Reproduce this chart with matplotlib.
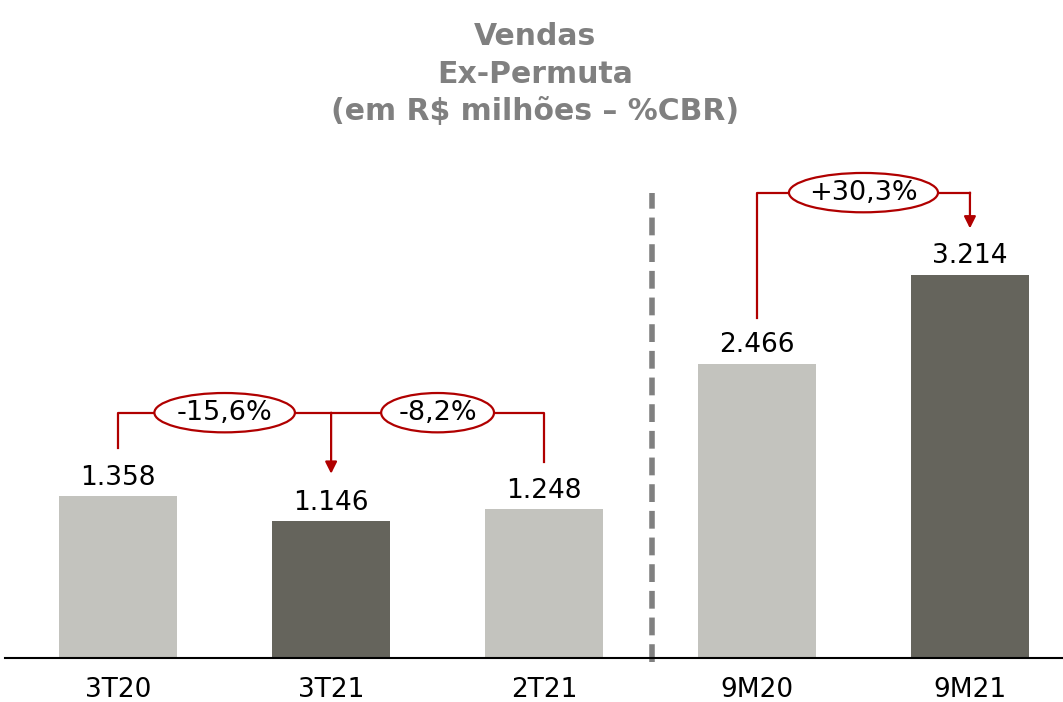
import numpy as np
import matplotlib.pyplot as plt
from matplotlib.patches import Ellipse

categorias = ["3T20", "3T21", "2T21", "9M20", "9M21"]
valores = [1358, 1146, 1248, 2466, 3214]
rotulos = ["1.358", "1.146", "1.248", "2.466", "3.214"]
escuro = [False, True, False, False, True]

# variacoes: (indice origem, indice destino, texto)
variacoes = [(0, 1, "-15,6%"), (2, 1, "-8,2%"), (3, 4, "+30,3%")]

cor_clara = "#C3C3BE"
cor_escura = "#65645C"
vermelho = "#B00000"

plt.rcParams['font.family'] = ['DejaVu Sans']

fig = plt.figure(figsize=(10.63, 7.02), dpi=100)
ax = fig.add_axes([0.005, 44 / 702, 0.995, 658 / 702])

x = np.arange(len(categorias))
cores = [cor_escura if e else cor_clara for e in escuro]
ax.bar(x, valores, width=0.555, color=cores, zorder=2)

for xi, v, r in zip(x, valores, rotulos):
    ax.annotate(r, (xi, v), xytext=(0, 4), textcoords="offset points",
                ha="center", va="bottom", fontsize=19, color="black")

ax.set_xlim(-0.53, 4.437)
ax.set_ylim(0, 5520)
ax.set_xticks(x)
ax.set_xticklabels(categorias, fontsize=19)
ax.tick_params(axis="x", length=0, pad=14)
ax.set_yticks([])
for s in ["top", "right", "left"]:
    ax.spines[s].set_visible(False)
ax.spines["bottom"].set_linewidth(1.5)
ax.spines["bottom"].set_zorder(3)

# linha tracejada separando trimestres de acumulado
ax.plot([2.507, 2.507], [-35, 3900], color="#808080", lw=4,
        linestyle=(0, (3.2, 1.6)), zorder=1, clip_on=False)

lw = 1.6
# grupo trimestral
nivel = max(valores[:3]) + 700
ax.plot([0, 0, 2, 2], [valores[0] + 400, nivel, nivel, valores[2] + 400],
        color=vermelho, lw=lw, zorder=3)
ax.annotate("", xy=(1, valores[1] + 400), xytext=(1, nivel),
            arrowprops=dict(arrowstyle="-|>,head_length=0.7,head_width=0.35",
                            color=vermelho, lw=lw, shrinkA=0, shrinkB=0), zorder=3)
# grupo acumulado
nivel2 = max(valores[3:]) + 690
ax.plot([3, 3, 4], [valores[3] + 390, nivel2, nivel2], color=vermelho, lw=lw, zorder=3)
ax.annotate("", xy=(4, valores[4] + 390), xytext=(4, nivel2),
            arrowprops=dict(arrowstyle="-|>,head_length=0.7,head_width=0.35",
                            color=vermelho, lw=lw, shrinkA=0, shrinkB=0), zorder=3)

larguras = [0.66, 0.53, 0.70]
for (a, b, txt), w in zip(variacoes, larguras):
    cx = (a + b) / 2
    cy = nivel if b < 3 else nivel2
    ax.add_patch(Ellipse((cx, cy), w, 330, facecolor="white",
                         edgecolor=vermelho, lw=lw, zorder=4))
    ax.text(cx, cy, txt, ha="center", va="center", fontsize=19.5, zorder=5)

fig.text(0.503, 0.969, "Vendas\nEx-Permuta\n(em R$ milhões – %CBR)",
         ha="center", va="top", fontsize=21.5, fontweight="bold",
         color="#808080", linespacing=1.38)

fig.savefig("out.png", dpi=100)
